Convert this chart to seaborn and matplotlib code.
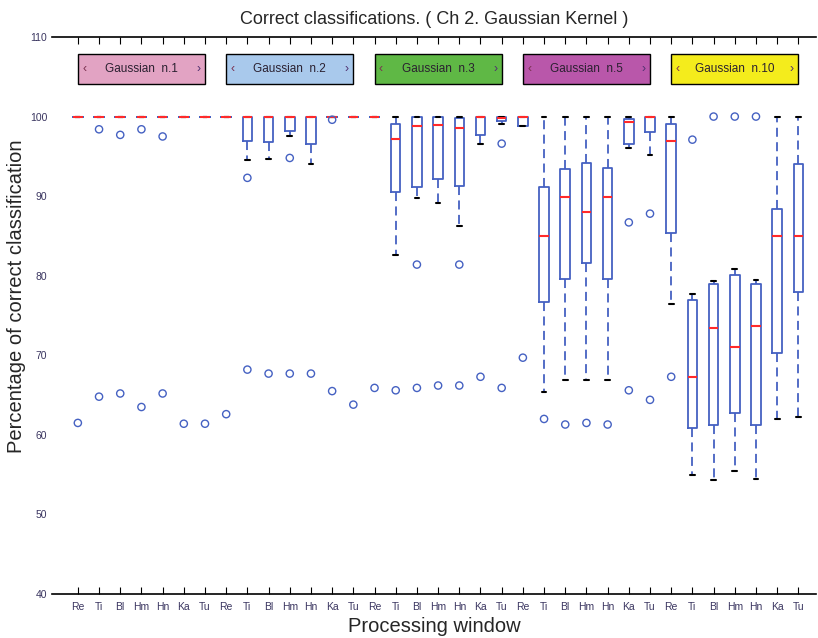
import numpy as np
import pandas as pd
import seaborn as sns
import matplotlib.pyplot as plt
from matplotlib.patches import Rectangle

windows = ["Re", "Ti", "Bl", "Hm", "Hn", "Ka", "Tu"]
groups = ["Gaussian  n.1", "Gaussian  n.2", "Gaussian  n.3", "Gaussian  n.5", "Gaussian  n.10"]
group_colors = ["#e2a3c3", "#a9c9ec", "#5fb845", "#b957aa", "#f4ec1c"]

# five-number summaries per group (rows) and window (columns)
whisker_low = [
    [100, 100, 100, 100, 100, 100, 100],
    [100, 94.6, 94.7, 97.6, 94.1, 100, 100],
    [100, 82.6, 89.8, 89.1, 86.2, 96.6, 99.1],
    [98.8, 65.4, 66.9, 66.9, 66.9, 96.0, 95.2],
    [76.4, 55.0, 54.3, 55.5, 54.5, 62.0, 62.3],
]
quart_low = [
    [100, 100, 100, 100, 100, 100, 100],
    [100, 96.9, 96.8, 98.2, 96.5, 100, 100],
    [100, 90.5, 91.1, 92.1, 91.3, 97.7, 99.4],
    [98.8, 76.7, 79.6, 81.6, 79.6, 96.6, 98.0],
    [85.4, 60.8, 61.3, 62.8, 61.3, 70.3, 78.0],
]
medians = [
    [100, 100, 100, 100, 100, 100, 100],
    [100, 100, 100, 100, 100, 100, 100],
    [100, 97.2, 98.8, 98.9, 98.6, 100, 99.8],
    [100, 85.0, 89.9, 88.0, 89.9, 99.3, 100],
    [96.9, 67.3, 73.4, 71.0, 73.7, 85.0, 85.0],
]
quart_high = [
    [100, 100, 100, 100, 100, 100, 100],
    [100, 100, 100, 100, 100, 100, 100],
    [100, 99.1, 99.9, 99.9, 99.8, 100, 100],
    [100, 91.2, 93.4, 94.2, 93.5, 99.7, 100],
    [99.1, 77.0, 79.0, 80.1, 78.9, 88.4, 94.0],
]
whisker_high = [
    [100, 100, 100, 100, 100, 100, 100],
    [100, 100, 100, 100, 100, 100, 100],
    [100, 100, 100, 100, 100, 100, 100],
    [100, 100, 100, 100, 100, 100, 100],
    [100, 77.7, 79.3, 80.9, 79.5, 100, 100],
]

# outliers: (group index, window index, value)
outlier_group = [0, 0, 0, 0, 0, 0, 0, 0, 0, 0, 0,
                 1, 1, 1, 1, 1, 1, 1, 1, 1, 1,
                 2, 2, 2, 2, 2, 2, 2, 2, 2, 2,
                 3, 3, 3, 3, 3, 3, 3, 3, 3,
                 4, 4, 4, 4, 4]
outlier_window = [0, 1, 1, 2, 2, 3, 3, 4, 4, 5, 6,
                  0, 1, 1, 2, 3, 3, 4, 5, 5, 6,
                  0, 1, 2, 2, 3, 4, 4, 5, 6, 6,
                  0, 1, 2, 3, 4, 5, 5, 6, 6,
                  0, 1, 2, 3, 4]
outlier_value = [61.5, 98.4, 64.8, 97.7, 65.2, 98.4, 63.5, 97.5, 65.2, 61.4, 61.4,
                 62.6, 92.3, 68.2, 67.7, 94.8, 67.7, 67.7, 99.6, 65.5, 63.8,
                 65.9, 65.6, 81.4, 65.9, 66.2, 81.4, 66.2, 67.3, 96.6, 65.9,
                 69.7, 62.0, 61.3, 61.5, 61.3, 86.7, 65.6, 87.8, 64.4,
                 67.3, 97.1, 100, 100, 100]

blue = "#4561c2"

slots = [f"{g}|{w}" for g in range(len(groups)) for w in windows]
rows = []
for gi in range(len(groups)):
    for wi, w in enumerate(windows):
        for stat in (whisker_low, quart_low, medians, quart_high, whisker_high):
            rows.append({"slot": f"{gi}|{w}", "value": stat[gi][wi]})
box_df = pd.DataFrame(rows)

out_df = pd.DataFrame({
    "slot": [f"{g}|{windows[w]}" for g, w in zip(outlier_group, outlier_window)],
    "value": outlier_value,
})

sns.set_style("white")
plt.rcParams["font.family"] = ["Liberation Sans", "DejaVu Sans"]

fig = plt.figure(figsize=(8.18, 6.38), dpi=100)
ax = fig.add_axes([52 / 818, 1 - 594 / 638, 1 - 52 / 818 - 0.002, (594 - 37) / 638])

sns.boxplot(data=box_df, x="slot", y="value", order=slots, whis=(0, 100),
            showfliers=False, fill=False, width=0.45, color=blue, linecolor=blue,
            linewidth=1.3,
            medianprops={"color": "#ff2a2a", "linewidth": 1.5},
            whiskerprops={"color": blue, "linestyle": (0, (5, 3)), "linewidth": 1.3},
            capprops={"color": "black", "linewidth": 1.5},
            ax=ax)

n_before = len(ax.collections)
sns.stripplot(data=out_df, x="slot", y="value", order=slots, jitter=False,
              size=5.2, color=blue, ax=ax)
for pts in ax.collections[n_before:]:
    pts.set_facecolor("none")
    pts.set_edgecolor(blue)
    pts.set_linewidth(1.0)

# group label boxes
n_win = len(windows)
for gi, (name, col) in enumerate(zip(groups, group_colors)):
    x0 = gi * n_win
    x1 = x0 + n_win - 1
    ax.add_patch(Rectangle((x0, 104.1), x1 - x0, 3.8, facecolor=col,
                           edgecolor="black", linewidth=1.0, zorder=3))
    ax.text((x0 + x1) / 2, 106.0, name, ha="center", va="center",
            fontsize=8.5, color="#2a2030", zorder=4)
    ax.text(x0 + 0.3, 106.0, "‹", ha="center", va="center",
            fontsize=9, color="#7a3050", zorder=4)
    ax.text(x1 - 0.3, 106.0, "›", ha="center", va="center",
            fontsize=9, color="#503070", zorder=4)

ax.set_xlim(-1.22, 34.85)
ax.set_ylim(40, 110)
ax.set_yticks(np.arange(40, 111, 10))
ax.set_xticks(range(len(slots)))
ax.set_xticklabels([s.split("|")[1] for s in slots])
ax.tick_params(axis="x", direction="in", length=5, labelsize=7.5, pad=6,
               top=True, bottom=True, colors="black", labelcolor="#3a3560")
ax.tick_params(axis="y", direction="in", length=5, labelsize=7.5,
               labelcolor="#3a3560")

ax.spines["left"].set_visible(False)
ax.spines["right"].set_visible(False)
for side in ("top", "bottom"):
    ax.spines[side].set_color("black")
    ax.spines[side].set_linewidth(1.2)

ax.set_title("Correct classifications. ( Ch 2. Gaussian Kernel )", fontsize=13, pad=9)
ax.set_ylabel("Percentage of correct classification", fontsize=14.5)
ax.yaxis.set_label_coords(-0.034, 0.535)
ax.set_xlabel("Processing window", fontsize=14.5, labelpad=3)

fig.savefig("out.png", dpi=100)
